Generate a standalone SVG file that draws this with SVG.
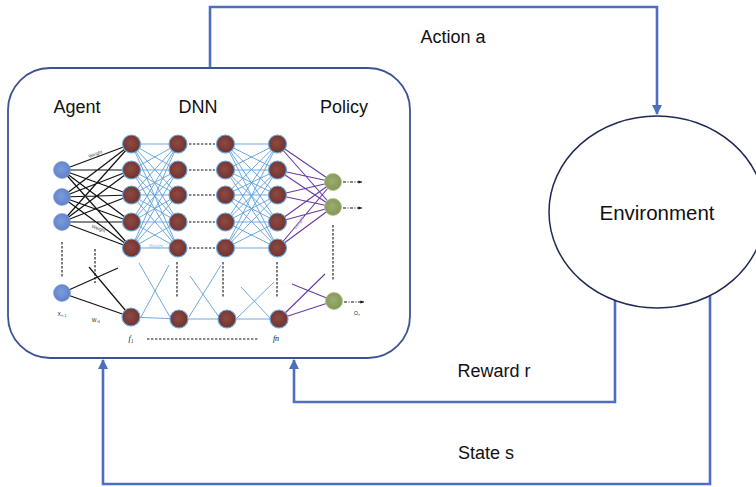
<svg xmlns="http://www.w3.org/2000/svg" width="756" height="487" viewBox="0 0 756 487">
  <style>
    .lbl { font-family: "Liberation Sans", Arial, sans-serif; font-size: 18px; fill: #111; }
    .env { font-family: "Liberation Sans", Arial, sans-serif; font-size: 20.5px; fill: #111; }
    .tiny { font-family: "Liberation Sans", Arial, sans-serif; font-size: 5px; fill: #222; }
    .wt { font-family: "Liberation Sans", Arial, sans-serif; font-size: 4.6px; }
    .fn { font-family: "Liberation Serif", "Times New Roman", serif; font-size: 8px; font-style: italic; fill: #111; }
    .flow { fill: none; stroke: #4e6fbf; stroke-width: 2.6; }
    .blk { stroke: #111; stroke-width: 1.2; fill: none; }
    .bl { stroke: #5d9fdb; stroke-width: 0.9; fill: none; }
    .pu { stroke: #6a3aa6; stroke-width: 1.1; fill: none; }
    .dash { stroke: #111; stroke-width: 1.1; stroke-dasharray: 2.4 1.6; fill: none; }
    .dashdot { stroke: #111; stroke-width: 1; stroke-dasharray: 3 1.5 1 1.5; fill: none; }
    .brown { fill: url(#gBrown); stroke: #6aa7de; stroke-width: 1.2; }
    .inp { fill: url(#gBlue); stroke: #7c9ad8; stroke-width: 0.6; }
    .out { fill: url(#gGreen); stroke: #b4c28f; stroke-width: 0.8; }
  </style>
  <defs>
    <radialGradient id="gBrown" cx="0.45" cy="0.45" r="0.6">
      <stop offset="0" stop-color="#8e4a44"/>
      <stop offset="1" stop-color="#6e302b"/>
    </radialGradient>
    <radialGradient id="gBlue" cx="0.45" cy="0.45" r="0.6">
      <stop offset="0" stop-color="#7a9bdc"/>
      <stop offset="1" stop-color="#5f80c6"/>
    </radialGradient>
    <radialGradient id="gGreen" cx="0.45" cy="0.45" r="0.6">
      <stop offset="0" stop-color="#9cae70"/>
      <stop offset="1" stop-color="#7f9453"/>
    </radialGradient>
    <marker id="arr" viewBox="0 0 10 10" refX="9" refY="5" markerWidth="4" markerHeight="4" orient="auto" markerUnits="strokeWidth">
      <path d="M0,0 L10,5 L0,10 z" fill="#4e6fbf"/>
    </marker>
    <marker id="sarr" viewBox="0 0 10 10" refX="9" refY="5" markerWidth="4" markerHeight="4" orient="auto" markerUnits="strokeWidth">
      <path d="M0,1 L10,5 L0,9 z" fill="#111"/>
    </marker>
  </defs>

  <rect width="756" height="487" fill="#ffffff"/>

  <!-- feedback loop connectors -->
  <g id="connectors">
    <path class="flow" d="M210,68 V7 H657 V114" marker-end="url(#arr)"/>
    <path class="flow" d="M615,298 V402 H294 V360" marker-end="url(#arr)"/>
    <path class="flow" d="M710,296 V484 H103 V360" marker-end="url(#arr)"/>
    <text class="lbl" x="453" y="43" text-anchor="middle">Action a</text>
    <text class="lbl" x="494" y="377" text-anchor="middle">Reward r</text>
    <text class="lbl" x="486" y="459" text-anchor="middle">State s</text>
  </g>

  <!-- environment -->
  <g id="environment">
    <ellipse cx="657" cy="212" rx="108" ry="96" fill="#ffffff" stroke="#1f2a55" stroke-width="1.5"/>
    <text class="env" x="657" y="220" text-anchor="middle">Environment</text>
  </g>

  <!-- agent with its deep network -->
  <g id="agent">
    <rect x="8" y="68" width="402" height="290" rx="42" ry="42" fill="#ffffff" stroke="#3f5393" stroke-width="1.8"/>
    <text class="lbl" x="77" y="113" text-anchor="middle">Agent</text>
    <text class="lbl" x="198" y="113" text-anchor="middle">DNN</text>
    <text class="lbl" x="344" y="113" text-anchor="middle">Policy</text>

    <!-- input to first hidden layer -->
    <g id="w-in">
      <path class="blk" d="M62,170 L131.5,144 M62,170 L131.5,170 M62,170 L131.5,195 M62,170 L131.5,222 M62,170 L131.5,248
        M62,197 L131.5,144 M62,197 L131.5,170 M62,197 L131.5,195 M62,197 L131.5,222 M62,197 L131.5,248
        M62,222 L131.5,144 M62,222 L131.5,170 M62,222 L131.5,195 M62,222 L131.5,222 M62,222 L131.5,248
        M62,293 L118,268 M89,267 L131,317 M62,293 L131,317"/>
      <text class="wt" fill="#444" transform="translate(96,155.5) rotate(-20.5)" text-anchor="middle">Weight</text>
      <text class="wt" fill="#444" transform="translate(98,230) rotate(20.5)" text-anchor="middle">Weight</text>
    </g>

    <!-- hidden layer connections -->
    <g id="w-hidden">
      <path class="bl" d="M131.5,144 L178,144 M131.5,144 L178,170 M131.5,144 L178,195 M131.5,144 L178,222 M131.5,144 L178,248
        M131.5,170 L178,144 M131.5,170 L178,170 M131.5,170 L178,195 M131.5,170 L178,222 M131.5,170 L178,248
        M131.5,195 L178,144 M131.5,195 L178,170 M131.5,195 L178,195 M131.5,195 L178,222 M131.5,195 L178,248
        M131.5,222 L178,144 M131.5,222 L178,170 M131.5,222 L178,195 M131.5,222 L178,222 M131.5,222 L178,248
        M131.5,248 L178,144 M131.5,248 L178,170 M131.5,248 L178,195 M131.5,248 L178,222 M131.5,248 L178,248
        M225.5,144 L277.5,144 M225.5,144 L277.5,170 M225.5,144 L277.5,195 M225.5,144 L277.5,222 M225.5,144 L277.5,248
        M225.5,170 L277.5,144 M225.5,170 L277.5,170 M225.5,170 L277.5,195 M225.5,170 L277.5,222 M225.5,170 L277.5,248
        M225.5,195 L277.5,144 M225.5,195 L277.5,170 M225.5,195 L277.5,195 M225.5,195 L277.5,222 M225.5,195 L277.5,248
        M225.5,222 L277.5,144 M225.5,222 L277.5,170 M225.5,222 L277.5,195 M225.5,222 L277.5,222 M225.5,222 L277.5,248
        M225.5,248 L277.5,144 M225.5,248 L277.5,170 M225.5,248 L277.5,195 M225.5,248 L277.5,222 M225.5,248 L277.5,248
        M131,317 L179,319 L227,319 L279,319
        M139,263 L170,317 M169,265 L141,317
        M190,276 L219,317 M221,265 L189,317
        M241,287 L270,318 M274,282 L237,318"/>
      <text class="wt" fill="#8fc0ea" x="156" y="247.5" text-anchor="middle">Weight</text>
    </g>

    <!-- last hidden layer to policy outputs -->
    <g id="w-out">
      <path class="pu" d="M277.5,144 L333,182 M277.5,170 L333,182 M277.5,195 L333,182 M277.5,222 L333,182 M277.5,248 L333,182
        M277.5,144 L333,207 M277.5,170 L333,207 M277.5,195 L333,207 M277.5,222 L333,207 M277.5,248 L333,207
        M279,319 L325,274 M292,284 L334,301 M279,319 L334,301"/>
      <text class="wt" fill="#a58fcb" transform="translate(300,224) rotate(-55)" text-anchor="middle">Weight</text>
    </g>

    <!-- elided units -->
    <g id="ellipsis">
      <path class="dash" d="M189,144 H215 M189,170 H215 M189,195 H215 M189,222 H215 M189,248 H215
        M62,242 V278 M95,249 V283 M177,262 V297 M223,262 V297 M277,262 V297 M333,225 V280 M147,339 H258"/>
      <path class="dashdot" d="M343,182 H362" marker-end="url(#sarr)"/>
      <path class="dashdot" d="M343,208 H362" marker-end="url(#sarr)"/>
      <path class="dashdot" d="M344,302 H364" marker-end="url(#sarr)"/>
    </g>

    <!-- units -->
    <g id="input-layer">
      <circle class="inp" cx="62" cy="170" r="8.5"/>
      <circle class="inp" cx="62" cy="197" r="8.5"/>
      <circle class="inp" cx="62" cy="222" r="8.5"/>
      <circle class="inp" cx="62" cy="293" r="8.5"/>
    </g>
    <g id="hidden-1">
      <circle class="brown" cx="131.5" cy="144" r="9"/>
      <circle class="brown" cx="131.5" cy="170" r="9"/>
      <circle class="brown" cx="131.5" cy="195" r="9"/>
      <circle class="brown" cx="131.5" cy="222" r="9"/>
      <circle class="brown" cx="131.5" cy="248" r="9"/>
      <circle class="brown" cx="131" cy="317" r="9"/>
    </g>
    <g id="hidden-2">
      <circle class="brown" cx="178" cy="144" r="9"/>
      <circle class="brown" cx="178" cy="170" r="9"/>
      <circle class="brown" cx="178" cy="195" r="9"/>
      <circle class="brown" cx="178" cy="222" r="9"/>
      <circle class="brown" cx="178" cy="248" r="9"/>
      <circle class="brown" cx="179" cy="319" r="9"/>
    </g>
    <g id="hidden-3">
      <circle class="brown" cx="225.5" cy="144" r="9"/>
      <circle class="brown" cx="225.5" cy="170" r="9"/>
      <circle class="brown" cx="225.5" cy="195" r="9"/>
      <circle class="brown" cx="225.5" cy="222" r="9"/>
      <circle class="brown" cx="225.5" cy="248" r="9"/>
      <circle class="brown" cx="227" cy="319" r="9"/>
    </g>
    <g id="hidden-4">
      <circle class="brown" cx="277.5" cy="144" r="9"/>
      <circle class="brown" cx="277.5" cy="170" r="9"/>
      <circle class="brown" cx="277.5" cy="195" r="9"/>
      <circle class="brown" cx="277.5" cy="222" r="9"/>
      <circle class="brown" cx="277.5" cy="248" r="9"/>
      <circle class="brown" cx="279" cy="319" r="9"/>
    </g>
    <g id="policy-out">
      <circle class="out" cx="333" cy="182" r="8.5"/>
      <circle class="out" cx="333" cy="207" r="8.5"/>
      <circle class="out" cx="334" cy="301" r="8.5"/>
    </g>

    <text class="tiny" x="62" y="316" text-anchor="middle">Xₙ₋₁</text>
    <text class="tiny" x="96" y="322" text-anchor="middle">Wₙ₁</text>
    <text class="tiny" x="357" y="315" text-anchor="middle">Oₙ</text>
    <text class="fn" x="131" y="341" text-anchor="middle">f₁</text>
    <text class="fn" x="276" y="341" text-anchor="middle">fn</text>
  </g>
</svg>
